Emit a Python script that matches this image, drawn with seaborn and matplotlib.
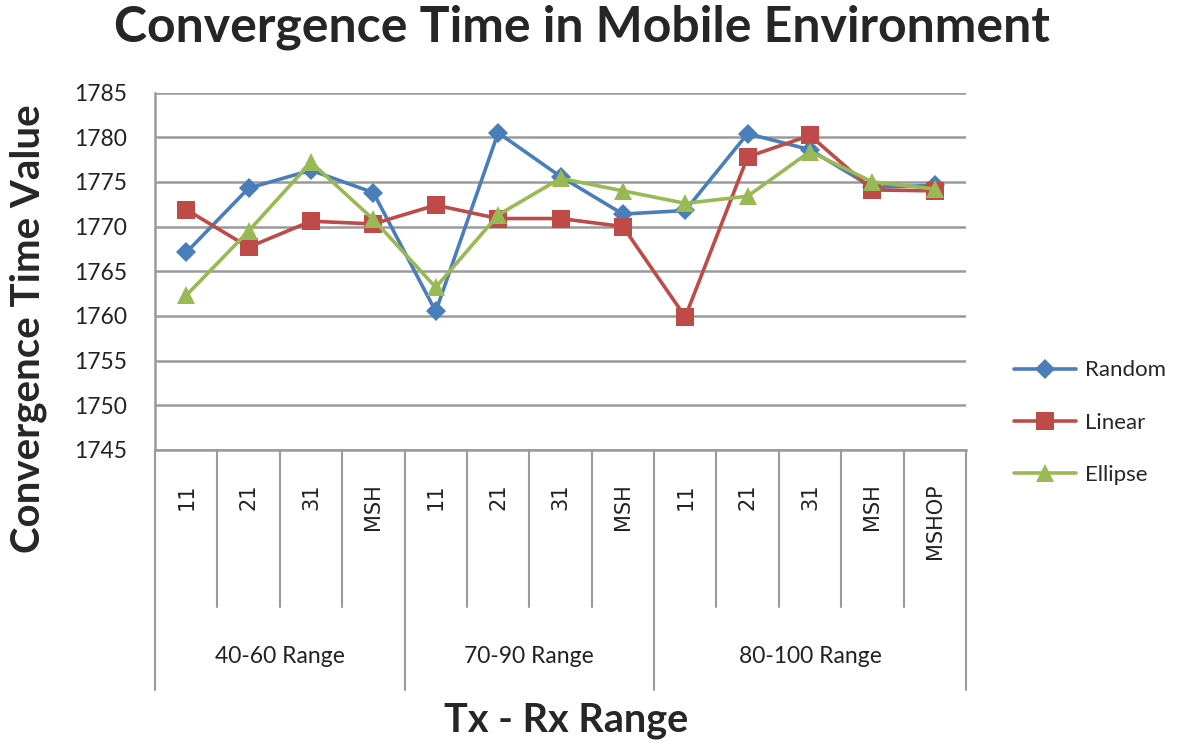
import matplotlib
matplotlib.use("Agg")
import matplotlib.pyplot as plt
import matplotlib.transforms as mtransforms
import seaborn as sns
import numpy as np
import pandas as pd

# Chart data
groups = ["40-60 Range", "70-90 Range", "80-100 Range"]
sub_labels = [
    ["11", "21", "31", "MSH"],
    ["11", "21", "31", "MSH"],
    ["11", "21", "31", "MSH", "MSHOP"],
]
random_vals = [1767.1, 1774.3, 1776.3, 1773.8, 1760.5, 1780.5, 1775.6, 1771.4, 1771.8, 1780.4, 1778.6, 1774.4, 1774.6]
linear_vals = [1771.9, 1767.7, 1770.6, 1770.3, 1772.4, 1770.9, 1770.9, 1770.0, 1759.9, 1777.8, 1780.2, 1774.1, 1774.0]
ellipse_vals = [1762.3, 1769.5, 1777.2, 1770.8, 1763.2, 1771.3, 1775.4, 1774.0, 1772.6, 1773.4, 1778.4, 1775.0, 1774.2]
series_names = ["Random", "Linear", "Ellipse"]
y_ticks = list(range(1745, 1786, 5))

colors = {"Random": "#4A7EBB", "Linear": "#BE4B48", "Ellipse": "#98B954"}
markers = {"Random": "D", "Linear": "s", "Ellipse": "^"}
marker_sizes = {"D": 10, "s": 13, "^": 13}

flat_labels = [lab for grp in sub_labels for lab in grp]
n = len(flat_labels)
pos = np.arange(n)

df = pd.concat([
    pd.DataFrame({"pos": pos, "value": vals, "series": name})
    for name, vals in zip(series_names, [random_vals, linear_vals, ellipse_vals])
])

sns.set_style("white")
plt.rcParams["font.family"] = ["Lato", "DejaVu Sans"]

fig = plt.figure(figsize=(11.8, 7.48), dpi=100)
ax = fig.add_axes([0.1314, 0.3984, 0.6872, 0.4779])

sns.lineplot(data=df, x="pos", y="value", hue="series", style="series",
             palette=colors, markers=markers, dashes=False, linewidth=2.6,
             markersize=13, markeredgewidth=0, ax=ax, legend=True)

# per-marker sizes
for line in ax.lines:
    m = line.get_marker()
    if m in marker_sizes:
        line.set_markersize(marker_sizes[m])

# Axis ranges / grid
ax.set_xlim(-0.5, n - 0.5)
ax.set_ylim(1745, 1785)
ax.set_yticks(y_ticks)
ax.set_yticklabels([str(t) for t in y_ticks], fontsize=16.5, color="#222222")
ax.yaxis.grid(True, color="#9a9a9a", linewidth=1.8)
ax.set_axisbelow(True)
for side in ["top", "right"]:
    ax.spines[side].set_visible(False)
for side in ["left", "bottom"]:
    ax.spines[side].set_color("#9a9a9a")
    ax.spines[side].set_linewidth(1.8)
ax.tick_params(axis="y", length=6, width=1.5, color="#9a9a9a", pad=14)

# Category labels (rotated)
ax.set_xticks(pos)
ax.set_xticklabels(flat_labels, rotation=90, fontsize=15, color="#222222",
                   family=["DejaVu Sans"])
ax.tick_params(axis="x", length=0, pad=24)

# Separator lines under the axis
trans = mtransforms.blended_transform_factory(ax.transData, ax.transAxes)
boundaries = np.cumsum([len(g) for g in sub_labels])
group_edges = set([0] + list(boundaries))
for b in range(n + 1):
    x = b - 0.5
    y_end = -0.671 if b in group_edges else -0.439
    ax.plot([x, x], [0, y_end], color="#9a9a9a", linewidth=1.5,
            transform=trans, clip_on=False)

# Group labels
start = 0
for g, grp in zip(groups, sub_labels):
    center = start + (len(grp) - 1) / 2
    ax.text(center, -0.579, g, transform=trans, ha="center", va="center",
            fontsize=16.5, color="#222222")
    start += len(grp)

ax.set_xlabel("")
ax.set_ylabel("")
fig.text(0.48, 0.037, "Tx - Rx Range", ha="center", va="center",
         fontsize=28.5, fontweight="bold")
fig.text(0.024, 0.56, "Convergence Time Value", ha="center", va="center",
         rotation=90, fontsize=29, fontweight="bold")
fig.text(0.493, 0.963, "Convergence Time in Mobile Environment", ha="center",
         va="center", fontsize=36, fontweight="bold")

# Legend on the right
handles, labels = ax.get_legend_handles_labels()
ax.get_legend().remove()
leg = fig.legend(handles, labels, loc="center left",
                 bbox_to_anchor=(0.842, 0.435), frameon=False, fontsize=16,
                 labelspacing=1.45, handlelength=2.8, handletextpad=0.4)
for h in leg.legend_handles:
    m = h.get_marker()
    if m in marker_sizes:
        h.set_markersize(marker_sizes[m])

fig.savefig("out.png", dpi=100)
